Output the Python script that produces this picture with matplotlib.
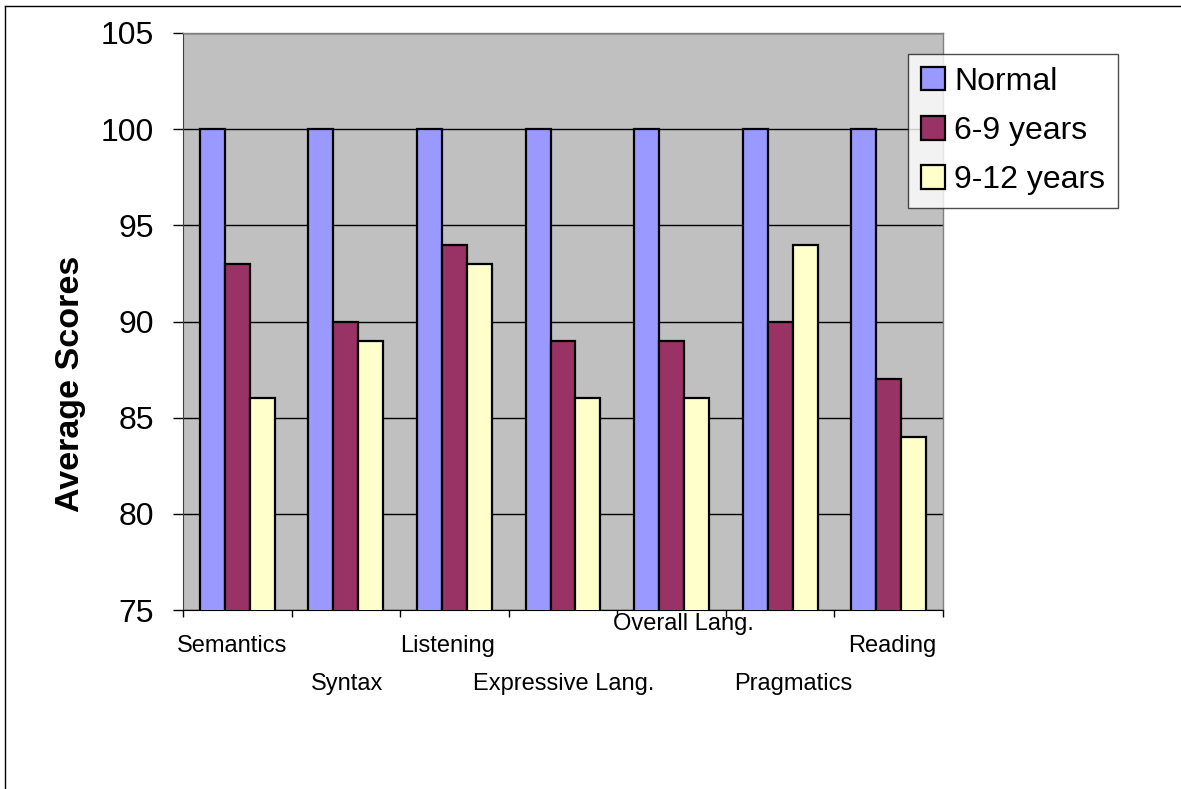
import matplotlib
matplotlib.use("Agg")
import matplotlib.pyplot as plt
import matplotlib.transforms as mtransforms
from matplotlib.lines import Line2D
import numpy as np

plt.rcParams['font.family'] = ['Liberation Sans', 'DejaVu Sans']

categories = ["Semantics", "Syntax", "Listening", "Expressive Lang.",
              "Overall Lang.", "Pragmatics", "Reading"]
series_names = ["Normal", "6-9 years", "9-12 years"]
normal = [100, 100, 100, 100, 100, 100, 100]
age_6_9 = [93, 90, 94, 89, 89, 90, 87]
age_9_12 = [86, 89, 93, 86, 86, 94, 84]
y_ticks = [75, 80, 85, 90, 95, 100, 105]

colors = ["#9999FF", "#993366", "#FFFFCC"]

W, H = 1181, 789
fig = plt.figure(figsize=(W / 100, H / 100), dpi=100)
ax = fig.add_axes([183 / W, 1 - 610 / H, (943 - 183) / W, (610 - 33) / H])
ax.set_facecolor("#C0C0C0")

x = np.arange(len(categories))
width = 0.23
for k, (vals, name) in enumerate(zip([normal, age_6_9, age_9_12], series_names)):
    ax.bar(x + (k - 1) * width, vals, width=width, bottom=0, color=colors[k],
           edgecolor="black", linewidth=1.6, label=name, zorder=3)

ax.set_ylim(75, 105)
ax.set_xlim(-0.5, len(categories) - 0.5)
ax.set_yticks(y_ticks)
ax.set_yticklabels([str(v) for v in y_ticks], fontsize=23)
ax.yaxis.grid(True, color="black", linewidth=1.0, zorder=1)
ax.set_axisbelow(True)
ax.tick_params(axis="y", direction="out", length=7, width=1, pad=14, colors="black")

# category boundaries carry the x tick marks; labels are drawn separately
ax.set_xticks(np.arange(-0.5, len(categories), 1.0))
ax.set_xticklabels([])
ax.tick_params(axis="x", direction="out", length=5, width=1)

for side in ["top", "right"]:
    ax.spines[side].set_color("#808080")
    ax.spines[side].set_linewidth(1.0)
ax.spines["left"].set_color("#404040")
ax.spines["bottom"].set_color("black")

# axis title sits lower than the plot-area centre
fig.text(70 / W, 1 - 384 / H, "Average Scores", rotation=90, ha="center", va="center",
         fontsize=24.5, fontweight="bold")

# staggered category labels (row offset in pixels below the axis, small x nudges)
label_rows = [25, 63, 25, 63, 3, 63, 25]
label_nudge = [-5, 1, -7, 1, 12, 13, 4]
for i, name in enumerate(categories):
    tr = mtransforms.offset_copy(ax.get_xaxis_transform(), fig=fig,
                                 x=label_nudge[i], y=-label_rows[i], units="dots")
    ax.text(i, 0, name, transform=tr, ha="center", va="top", fontsize=17)

leg = ax.legend(loc="upper left", bbox_to_anchor=(908 / W, 1 - 54 / H),
                bbox_transform=fig.transFigure, fontsize=23, frameon=True,
                fancybox=False, edgecolor="#202020", handlelength=0.75,
                handleheight=0.75, handletextpad=0.3, labelspacing=0.6,
                borderpad=0.4, borderaxespad=0)
leg.get_frame().set_linewidth(1.0)

# outer chart border
fig.add_artist(Line2D([5 / W, 5 / W], [0, 1 - 6 / H], transform=fig.transFigure,
                      color="black", linewidth=1.0))
fig.add_artist(Line2D([5 / W, 1], [1 - 6 / H, 1 - 6 / H], transform=fig.transFigure,
                      color="black", linewidth=1.0))

fig.savefig("out.png", dpi=100, facecolor="white")
